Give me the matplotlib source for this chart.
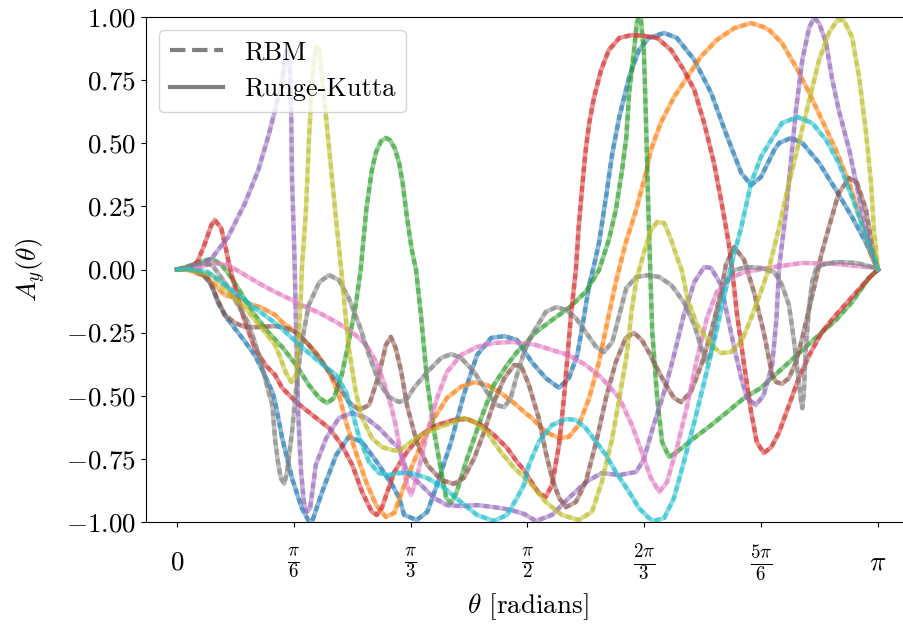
import numpy as np
import matplotlib
matplotlib.use("Agg")
import matplotlib.pyplot as plt
from matplotlib.lines import Line2D

plt.rcParams.update({
    "font.family": "serif", "font.serif": ["cmr10"], "mathtext.fontset": "cm",
    "axes.formatter.use_mathtext": True, "font.size": 19.5, "axes.unicode_minus": True,
})

# theta in units of pi, A_y(theta) (RK and RBM overlap within line width)
blue_t = [0, 0.017, 0.037, 0.050, 0.058, 0.071, 0.093, 0.111, 0.123, 0.136, 0.140, 0.150, 0.164, 0.178, 0.188,
          0.193, 0.207, 0.227, 0.245, 0.264, 0.288, 0.307, 0.317, 0.324, 0.342, 0.357, 0.371, 0.391, 0.409, 0.428,
          0.448, 0.467, 0.485, 0.506, 0.526, 0.545, 0.559, 0.571, 0.581, 0.588, 0.595, 0.602, 0.612, 0.621, 0.631,
          0.645, 0.659, 0.673, 0.695, 0.713, 0.738, 0.762, 0.785, 0.805, 0.819, 0.833, 0.852, 0.859, 0.876, 0.892,
          0.916, 0.940, 0.963, 0.983, 1.0]
blue_a = [0, 0.002, -0.022, -0.061, -0.129, -0.192, -0.271, -0.339, -0.406, -0.485, -0.525, -0.667, -0.826, -0.945,
          -0.996, -0.996, -0.881, -0.735, -0.663, -0.683, -0.774, -0.853, -0.905, -0.972, -0.992, -0.960, -0.853,
          -0.683, -0.497, -0.339, -0.271, -0.264, -0.279, -0.366, -0.430, -0.469, -0.430, -0.339, -0.180, -0.061,
          0.018, 0.105, 0.287, 0.461, 0.604, 0.762, 0.869, 0.917, 0.937, 0.917, 0.830, 0.699, 0.525, 0.382, 0.335,
          0.366, 0.473, 0.501, 0.521, 0.501, 0.422, 0.315, 0.208, 0.105, 0]

orange_t = [0, 0.017, 0.039, 0.050, 0.068, 0.083, 0.101, 0.121, 0.140, 0.150, 0.174, 0.198, 0.217, 0.231, 0.241,
            0.255, 0.270, 0.284, 0.298, 0.310, 0.328, 0.348, 0.367, 0.385, 0.405, 0.424, 0.442, 0.462, 0.481, 0.495,
            0.506, 0.526, 0.545, 0.559, 0.573, 0.588, 0.602, 0.616, 0.626, 0.640, 0.655, 0.669, 0.676, 0.690, 0.709,
            0.728, 0.747, 0.770, 0.795, 0.819, 0.837, 0.845, 0.863, 0.883, 0.902, 0.920, 0.940, 0.959, 0.977, 0.991, 1.0]
orange_a = [0, -0.002, -0.026, -0.050, -0.101, -0.113, -0.133, -0.152, -0.180, -0.208, -0.259, -0.327, -0.406,
            -0.497, -0.604, -0.723, -0.842, -0.933, -0.980, -0.964, -0.826, -0.695, -0.588, -0.509, -0.465, -0.446,
            -0.457, -0.489, -0.529, -0.564, -0.588, -0.644, -0.667, -0.663, -0.616, -0.509, -0.366, -0.180, -0.050,
            0.105, 0.236, 0.382, 0.473, 0.580, 0.683, 0.762, 0.842, 0.909, 0.956, 0.976, 0.960, 0.948, 0.897, 0.802,
            0.699, 0.592, 0.473, 0.343, 0.184, 0.050, 0]

green_t = [0, 0.017, 0.036, 0.050, 0.064, 0.078, 0.093, 0.111, 0.130, 0.150, 0.170, 0.188, 0.203, 0.214, 0.224,
           0.235, 0.245, 0.255, 0.262, 0.270, 0.278, 0.284, 0.291, 0.298, 0.304, 0.311, 0.317, 0.322, 0.328, 0.335,
           0.341, 0.348, 0.357, 0.367, 0.377, 0.384, 0.391, 0.399, 0.414, 0.434, 0.452, 0.471, 0.485, 0.495, 0.512,
           0.535, 0.559, 0.583, 0.602, 0.616, 0.626, 0.635, 0.641, 0.645, 0.652, 0.656, 0.661, 0.663, 0.666, 0.669,
           0.672, 0.675, 0.678, 0.685, 0.692, 0.702, 0.713, 0.738, 0.762, 0.785, 0.809, 0.833, 0.845, 0.869, 0.892,
           0.916, 0.940, 0.963, 0.987, 1.0]
green_a = [0, 0.014, 0.034, 0.042, 0.018, -0.034, -0.101, -0.180, -0.248, -0.307, -0.378, -0.457, -0.509, -0.529,
           -0.509, -0.418, -0.287, -0.141, -0.002, 0.236, 0.394, 0.465, 0.508, 0.521, 0.512, 0.478, 0.420, 0.340,
           0.208, 0.077, -0.002, -0.180, -0.446, -0.644, -0.802, -0.905, -0.925, -0.881, -0.747, -0.588, -0.457,
           -0.378, -0.327, -0.299, -0.248, -0.200, -0.152, -0.089, -0.002, 0.117, 0.236, 0.394, 0.525, 0.699, 0.869,
           0.976, 1.02, 0.948, 0.869, 0.592, 0.275, 0.006, -0.248, -0.509, -0.683, -0.743, -0.723, -0.667, -0.616,
           -0.564, -0.509, -0.469, -0.438, -0.378, -0.319, -0.259, -0.200, -0.129, -0.034, 0]

red_t = [0, 0.017, 0.029, 0.039, 0.049, 0.054, 0.063, 0.068, 0.073, 0.078, 0.087, 0.097, 0.111, 0.126, 0.140,
         0.150, 0.170, 0.193, 0.217, 0.235, 0.250, 0.264, 0.278, 0.285, 0.292, 0.310, 0.328, 0.348, 0.371, 0.395,
         0.414, 0.434, 0.452, 0.471, 0.485, 0.495, 0.502, 0.516, 0.526, 0.535, 0.545, 0.552, 0.556, 0.562, 0.569,
         0.573, 0.578, 0.583, 0.588, 0.595, 0.605, 0.616, 0.631, 0.649, 0.666, 0.685, 0.705, 0.723, 0.738, 0.752,
         0.766, 0.777, 0.787, 0.792, 0.799, 0.809, 0.819, 0.827, 0.837, 0.848, 0.859, 0.873, 0.887, 0.902, 0.920,
         0.940, 0.963, 0.987, 1.0]
red_a = [0, 0.006, 0.030, 0.097, 0.176, 0.196, 0.164, 0.105, 0.038, -0.022, -0.113, -0.208, -0.311, -0.378, -0.418,
         -0.469, -0.525, -0.576, -0.628, -0.695, -0.774, -0.881, -0.960, -0.972, -0.945, -0.802, -0.723, -0.655,
         -0.616, -0.596, -0.592, -0.616, -0.655, -0.707, -0.762, -0.794, -0.826, -0.885, -0.901, -0.853, -0.695,
         -0.509, -0.378, -0.180, -0.002, 0.168, 0.327, 0.473, 0.580, 0.683, 0.790, 0.869, 0.917, 0.929, 0.925,
         0.917, 0.869, 0.790, 0.711, 0.580, 0.422, 0.263, 0.105, -0.002, -0.180, -0.378, -0.564, -0.683, -0.727,
         -0.703, -0.644, -0.537, -0.430, -0.339, -0.248, -0.180, -0.109, -0.034, 0]

purple_t = [0, 0.017, 0.036, 0.050, 0.073, 0.097, 0.116, 0.130, 0.140, 0.150, 0.155, 0.158, 0.161, 0.163, 0.164,
            0.167, 0.168, 0.170, 0.173, 0.177, 0.181, 0.185, 0.190, 0.198, 0.213, 0.231, 0.250, 0.270, 0.288, 0.307,
            0.317, 0.328, 0.348, 0.367, 0.385, 0.405, 0.428, 0.452, 0.476, 0.495, 0.512, 0.535, 0.559, 0.583, 0.606,
            0.631, 0.655, 0.666, 0.680, 0.695, 0.709, 0.723, 0.738, 0.752, 0.762, 0.776, 0.785, 0.795, 0.805, 0.813,
            0.826, 0.837, 0.849, 0.855, 0.859, 0.869, 0.876, 0.883, 0.892, 0.902, 0.909, 0.916, 0.926, 0.934, 0.944,
            0.959, 0.973, 0.987, 1.0]
purple_a = [0, 0.006, 0.022, 0.046, 0.129, 0.263, 0.394, 0.525, 0.632, 0.750, 0.850, 0.877, 0.790, 0.604, 0.366,
            0.105, -0.002, -0.248, -0.576, -0.802, -0.921, -0.960, -0.945, -0.774, -0.667, -0.588, -0.568, -0.588,
            -0.628, -0.683, -0.707, -0.802, -0.853, -0.905, -0.933, -0.937, -0.933, -0.941, -0.952, -0.968, -0.996,
            -0.972, -0.905, -0.842, -0.806, -0.814, -0.802, -0.751, -0.616, -0.485, -0.339, -0.180, -0.050, 0.010,
            0.006, -0.061, -0.180, -0.311, -0.430, -0.509, -0.537, -0.497, -0.378, -0.200, 0.010, 0.236, 0.434,
            0.632, 0.830, 0.960, 0.996, 0.976, 0.897, 0.762, 0.632, 0.473, 0.287, 0.105, 0]

brown_t = [0, 0.017, 0.031, 0.044, 0.057, 0.068, 0.083, 0.097, 0.116, 0.140, 0.150, 0.170, 0.188, 0.207, 0.227,
           0.245, 0.260, 0.274, 0.288, 0.298, 0.305, 0.312, 0.320, 0.328, 0.342, 0.357, 0.377, 0.395, 0.409, 0.424,
           0.438, 0.452, 0.467, 0.481, 0.491, 0.502, 0.516, 0.526, 0.535, 0.545, 0.555, 0.569, 0.583, 0.598, 0.612,
           0.626, 0.640, 0.652, 0.663, 0.673, 0.680, 0.695, 0.709, 0.719, 0.733, 0.748, 0.762, 0.776, 0.783, 0.795,
           0.809, 0.823, 0.837, 0.849, 0.855, 0.863, 0.873, 0.883, 0.892, 0.902, 0.912, 0.919, 0.930, 0.944, 0.959,
           0.970, 0.983, 0.991, 1.0]
brown_a = [0, 0.002, -0.010, -0.034, -0.113, -0.180, -0.212, -0.228, -0.228, -0.224, -0.228, -0.248, -0.299,
           -0.366, -0.446, -0.525, -0.556, -0.537, -0.418, -0.299, -0.267, -0.311, -0.406, -0.537, -0.683, -0.774,
           -0.834, -0.849, -0.826, -0.747, -0.644, -0.525, -0.430, -0.378, -0.382, -0.457, -0.588, -0.723, -0.826,
           -0.905, -0.941, -0.921, -0.842, -0.683, -0.509, -0.366, -0.271, -0.251, -0.279, -0.327, -0.366, -0.446,
           -0.509, -0.525, -0.485, -0.378, -0.248, -0.089, 0.018, 0.089, 0.038, -0.089, -0.248, -0.418, -0.446,
           -0.453, -0.430, -0.366, -0.271, -0.152, -0.034, 0.057, 0.168, 0.303, 0.362, 0.343, 0.236, 0.105, 0]

pink_t = [0, 0.031, 0.050, 0.073, 0.097, 0.121, 0.140, 0.155, 0.178, 0.203, 0.227, 0.250, 0.270, 0.284, 0.295,
          0.305, 0.312, 0.320, 0.328, 0.334, 0.342, 0.357, 0.371, 0.385, 0.405, 0.428, 0.452, 0.476, 0.495, 0.512,
          0.535, 0.559, 0.583, 0.606, 0.631, 0.649, 0.663, 0.676, 0.688, 0.699, 0.713, 0.728, 0.742, 0.756, 0.770,
          0.790, 0.809, 0.827, 0.852, 0.892, 0.940, 0.997, 1.0]
pink_a = [0, 0.006, 0.026, 0.018, -0.022, -0.061, -0.089, -0.109, -0.141, -0.172, -0.208, -0.248, -0.299, -0.366,
          -0.446, -0.537, -0.616, -0.747, -0.853, -0.893, -0.826, -0.644, -0.509, -0.406, -0.339, -0.307, -0.291,
          -0.287, -0.291, -0.299, -0.319, -0.339, -0.378, -0.430, -0.509, -0.616, -0.723, -0.826, -0.881, -0.842,
          -0.707, -0.537, -0.350, -0.192, -0.089, -0.034, -0.010, -0.002, 0.010, 0.026, 0.022, 0.006, 0]

gray_t = [0, 0.017, 0.031, 0.050, 0.068, 0.087, 0.101, 0.111, 0.121, 0.128, 0.136, 0.140, 0.144, 0.148, 0.153,
          0.157, 0.164, 0.171, 0.178, 0.188, 0.203, 0.217, 0.231, 0.245, 0.260, 0.274, 0.288, 0.302, 0.317, 0.328,
          0.338, 0.357, 0.377, 0.391, 0.405, 0.424, 0.442, 0.456, 0.467, 0.476, 0.485, 0.495, 0.506, 0.526, 0.541,
          0.555, 0.569, 0.583, 0.598, 0.609, 0.621, 0.631, 0.641, 0.655, 0.673, 0.688, 0.705, 0.723, 0.738, 0.748,
          0.755, 0.762, 0.770, 0.780, 0.795, 0.813, 0.833, 0.852, 0.863, 0.873, 0.880, 0.886, 0.890, 0.892, 0.894,
          0.897, 0.902, 0.906, 0.912, 0.920, 0.940, 0.969, 0.997, 1.0]
gray_a = [0, 0.010, 0.026, 0.018, -0.050, -0.141, -0.208, -0.287, -0.378, -0.457, -0.537, -0.675, -0.762, -0.826,
          -0.849, -0.802, -0.644, -0.446, -0.287, -0.141, -0.050, -0.022, -0.042, -0.113, -0.220, -0.339, -0.446,
          -0.505, -0.525, -0.513, -0.469, -0.406, -0.350, -0.335, -0.350, -0.406, -0.485, -0.537, -0.545, -0.509,
          -0.418, -0.327, -0.259, -0.168, -0.149, -0.160, -0.192, -0.248, -0.307, -0.327, -0.287, -0.180, -0.073,
          -0.030, -0.022, -0.030, -0.061, -0.129, -0.220, -0.311, -0.366, -0.327, -0.180, -0.061, -0.002, 0.010,
          0.006, -0.010, -0.061, -0.141, -0.279, -0.418, -0.517, -0.549, -0.497, -0.311, -0.141, -0.050, 0.006,
          0.018, 0.030, 0.026, 0.006, 0]

olive_t = [0, 0.017, 0.031, 0.050, 0.073, 0.097, 0.121, 0.140, 0.146, 0.155, 0.163, 0.170, 0.174, 0.177, 0.178,
           0.184, 0.188, 0.193, 0.198, 0.203, 0.207, 0.214, 0.221, 0.228, 0.234, 0.238, 0.245, 0.255, 0.264, 0.278,
           0.292, 0.307, 0.317, 0.328, 0.348, 0.371, 0.395, 0.409, 0.424, 0.442, 0.462, 0.481, 0.495, 0.506, 0.526,
           0.549, 0.573, 0.592, 0.606, 0.621, 0.631, 0.641, 0.649, 0.656, 0.666, 0.676, 0.685, 0.695, 0.705, 0.713,
           0.720, 0.728, 0.742, 0.762, 0.776, 0.790, 0.805, 0.819, 0.833, 0.845, 0.859, 0.873, 0.887, 0.902, 0.916,
           0.930, 0.942, 0.951, 0.963, 0.973, 0.983, 0.990, 0.994, 1.0]
olive_a = [0, -0.002, -0.010, -0.022, -0.089, -0.152, -0.232, -0.299, -0.339, -0.406, -0.446, -0.418, -0.248,
           -0.089, -0.002, 0.236, 0.501, 0.762, 0.881, 0.869, 0.762, 0.564, 0.366, 0.168, 0.006, -0.113, -0.311,
           -0.485, -0.588, -0.667, -0.703, -0.715, -0.719, -0.695, -0.655, -0.628, -0.604, -0.588, -0.604, -0.644,
           -0.723, -0.786, -0.822, -0.853, -0.921, -0.972, -0.992, -0.960, -0.842, -0.667, -0.509, -0.350, -0.152,
           -0.034, 0.065, 0.156, 0.188, 0.184, 0.117, 0.050, -0.002, -0.113, -0.220, -0.299, -0.331, -0.327,
           -0.287, -0.192, -0.089, 0.010, 0.168, 0.343, 0.501, 0.671, 0.830, 0.937, 0.988, 0.988, 0.921, 0.762,
           0.541, 0.343, 0.168, 0]

cyan_t = [0, 0.017, 0.044, 0.064, 0.087, 0.111, 0.140, 0.155, 0.178, 0.203, 0.227, 0.241, 0.250, 0.260, 0.274,
          0.288, 0.302, 0.317, 0.334, 0.357, 0.381, 0.405, 0.428, 0.452, 0.471, 0.485, 0.495, 0.502, 0.516, 0.535,
          0.555, 0.569, 0.583, 0.598, 0.612, 0.626, 0.645, 0.659, 0.673, 0.680, 0.695, 0.709, 0.723, 0.738, 0.752,
          0.766, 0.780, 0.790, 0.805, 0.819, 0.833, 0.845, 0.863, 0.885, 0.906, 0.926, 0.944, 0.963, 0.983, 1.0]
cyan_a = [0, 0.002, -0.010, -0.050, -0.101, -0.152, -0.212, -0.248, -0.307, -0.366, -0.418, -0.485, -0.564, -0.667,
          -0.762, -0.806, -0.814, -0.806, -0.806, -0.826, -0.865, -0.921, -0.972, -0.996, -0.972, -0.905, -0.853,
          -0.774, -0.683, -0.616, -0.592, -0.596, -0.628, -0.683, -0.735, -0.802, -0.881, -0.945, -0.984, -0.996,
          -0.984, -0.905, -0.762, -0.604, -0.446, -0.287, -0.113, 0.010, 0.168, 0.343, 0.446, 0.501, 0.580, 0.604,
          0.580, 0.513, 0.422, 0.287, 0.129, 0]

curves = [(blue_t, blue_a), (orange_t, orange_a), (green_t, green_a), (red_t, red_a), (purple_t, purple_a),
          (brown_t, brown_a), (pink_t, pink_a), (gray_t, gray_a), (olive_t, olive_a), (cyan_t, cyan_a)]
tick_pos = [0, 1 / 6, 1 / 3, 1 / 2, 2 / 3, 5 / 6, 1]
tick_lab = [r"$0$", r"$\frac{\pi}{6}$", r"$\frac{\pi}{3}$", r"$\frac{\pi}{2}$",
            r"$\frac{2\pi}{3}$", r"$\frac{5\pi}{6}$", r"$\pi$"]
ytick_val = [-1.0, -0.75, -0.5, -0.25, 0.0, 0.25, 0.5, 0.75, 1.0]

fig = plt.figure(figsize=(9.04, 6.26), dpi=100)
ax = fig.add_axes([146 / 904, 104 / 626, 763 / 904, 505 / 626])
for i, (t, a) in enumerate(curves):
    th = np.array(t) * np.pi
    ax.plot(th, a, color=f"C{i}", lw=3.2, alpha=0.5, solid_joinstyle="round")      # Runge-Kutta
    ax.plot(th, a, color=f"C{i}", lw=3.2, alpha=0.5, ls=(0, (1.3, 0.9)))          # RBM

pad = 31 / 701 * np.pi
ax.set_xlim(-pad, np.pi + pad)
ax.set_ylim(-1, 1)
ax.set_xticks(np.array(tick_pos) * np.pi)
ax.set_xticklabels(tick_lab)
ax.tick_params(axis="x", pad=26)
for lab in ax.get_xticklabels():
    lab.set_va("center")
ax.set_yticks(ytick_val)
ax.set_yticklabels([f"${v:.2f}$" for v in ytick_val])
ax.set_xlabel(r"$\theta$ [radians]", labelpad=6)
ax.set_ylabel(r"$A_y(\theta)$", labelpad=13)

handles = [Line2D([], [], color="gray", lw=3, ls="--"), Line2D([], [], color="gray", lw=3)]
ax.legend(handles, ["RBM", "Runge-Kutta"], loc="upper left", fontsize=19)
fig.savefig("out.png", dpi=100)
